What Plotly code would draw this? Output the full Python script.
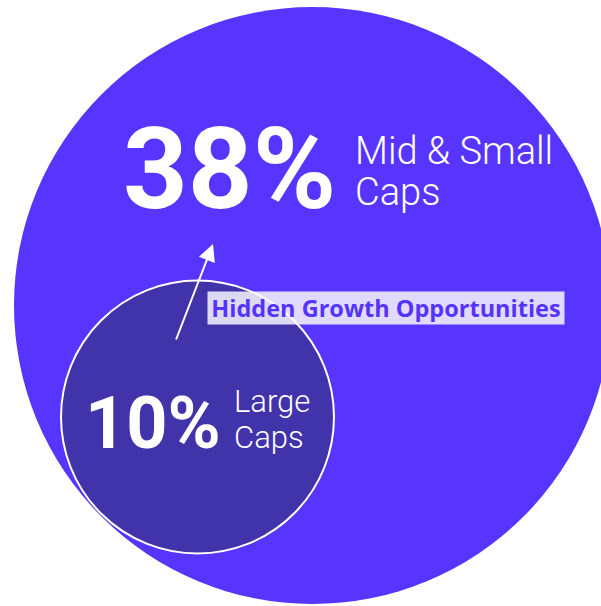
import plotly.graph_objects as go

# Share of companies by segment
segments = ["Mid & Small Caps", "Large Caps"]
shares = [38, 10]
segment_lines = [["Mid & Small", "Caps"], ["Large", "Caps"]]
callout = "Hidden Growth Opportunities"

# Geometry (pixel space: 1 axis unit = 1 screen pixel)
W, H = 601, 606
circles = [
    dict(cx=312.5, cy=305.5, r=298.5, fill="#5835FF", line=None),
    dict(cx=197.5, cy=417.0, r=136.5, fill="#4133A9", line="#FFFFFF"),
]
number_pos = [(121, 169), (83, 423)]
number_size = [113, 72]
text_pos = [(353, 151, 41), (232, 401, 36)]
text_size = [38, 31]

FONT = "Roboto"

fig = go.Figure()

for c in circles:
    fig.add_shape(
        type="circle", xref="x", yref="y",
        x0=c["cx"] - c["r"], x1=c["cx"] + c["r"],
        y0=c["cy"] - c["r"], y1=c["cy"] + c["r"],
        fillcolor=c["fill"],
        line=dict(color=c["line"] or c["fill"], width=2 if c["line"] else 0),
        layer="below",
    )

for i, (seg, val) in enumerate(zip(segments, shares)):
    nx, ny = number_pos[i]
    fig.add_annotation(
        x=nx, y=ny, xref="x", yref="y", xanchor="left", yanchor="middle",
        text=f"{val}%", showarrow=False,
        font=dict(family=FONT, size=number_size[i], color="white", weight=700),
    )
    tx, ty, gap = text_pos[i]
    for j, line in enumerate(segment_lines[i]):
        fig.add_annotation(
            x=tx, y=ty + j * gap, xref="x", yref="y", xanchor="left", yanchor="middle",
            text=line, showarrow=False,
            font=dict(family=FONT, size=text_size[i], color="white", weight=300),
        )

# Arrow from the small circle up into the large one
fig.add_annotation(
    x=213, y=244, ax=175.5, ay=341, xref="x", yref="y", axref="x", ayref="y",
    text="", showarrow=True, arrowhead=2, arrowsize=1.7, arrowwidth=2,
    arrowcolor="white", standoff=0, startstandoff=0,
)

fig.add_annotation(
    x=386, y=308, xref="x", yref="y", xanchor="center", yanchor="middle",
    text=f"<b>{callout}</b>", showarrow=False,
    width=352, height=28, bgcolor="rgba(255,255,255,0.82)", borderpad=2,
    font=dict(family="Open Sans", size=23.5, color="#5533FF"),
)

fig.update_layout(
    width=W, height=H, margin=dict(l=0, r=0, t=0, b=0),
    paper_bgcolor="white", plot_bgcolor="white", showlegend=False,
    xaxis=dict(range=[0, W], visible=False, fixedrange=True),
    yaxis=dict(range=[H, 0], visible=False, fixedrange=True),
)

fig.write_html("out.html")
